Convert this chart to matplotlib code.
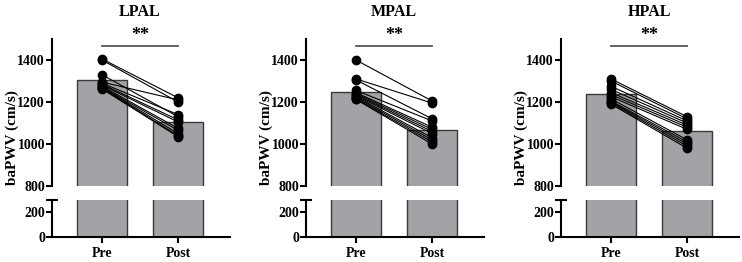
import matplotlib
matplotlib.use("Agg")
import matplotlib.pyplot as plt
import numpy as np

plt.rcParams['font.family'] = ['Liberation Serif', 'DejaVu Serif']
plt.rcParams['font.weight'] = 'bold'

titles = ["LPAL", "MPAL", "HPAL"]
categories = ["Pre", "Post"]
bar_means = [[1305, 1105], [1247, 1067], [1237, 1063]]

pre_vals = [
    [1405, 1400, 1330, 1295, 1290, 1285, 1280, 1275, 1270, 1268, 1265, 1262],
    [1400, 1310, 1305, 1255, 1245, 1240, 1235, 1230, 1225, 1220, 1215, 1212],
    [1310, 1300, 1275, 1260, 1245, 1235, 1225, 1215, 1205, 1200, 1195, 1190],
]
post_vals = [
    [1220, 1200, 1130, 1210, 1140, 1115, 1105, 1075, 1065, 1050, 1040, 1035],
    [1205, 1195, 1120, 1110, 1080, 1070, 1060, 1050, 1030, 1020, 1010, 1000],
    [1130, 1120, 1110, 1100, 1090, 1080, 1070, 1020, 1010, 1000, 990, 980],
]
sig_label = "**"

W, H = 742, 262
fig = plt.figure(figsize=(W / 100, H / 100), dpi=100)

lefts = [52, 306, 561]
width = 178
up_top, up_bot = 39, 186
lo_top, lo_bot = 199.5, 237
xlim = (-50 / 76, 1 + 52 / 76)
bar_w = 0.655
bar_color = "#a3a3a7"
edge_color = "#3a3a3a"
fs_tick = 10

for i in range(3):
    l = lefts[i] / W
    w = width / W
    ax_u = fig.add_axes([l, (H - up_bot) / H, w, (up_bot - up_top) / H])
    ax_l = fig.add_axes([l, (H - lo_bot) / H, w, (lo_bot - lo_top) / H])
    x = np.arange(len(categories))
    for ax in (ax_u, ax_l):
        ax.bar(x, bar_means[i], width=bar_w, color=bar_color,
               edgecolor=edge_color, linewidth=1.0, zorder=1)
        ax.set_xlim(*xlim)
        for s in ("top", "right"):
            ax.spines[s].set_visible(False)
        ax.spines["left"].set_linewidth(1.5)
        ax.tick_params(axis="y", length=4, width=1.5, labelsize=fs_tick, pad=1)
    ax_u.set_ylim(800, 1500)
    ax_u.set_yticks([800, 1000, 1200, 1400])
    ax_u.spines["bottom"].set_visible(False)
    ax_u.set_xticks([])
    ax_l.set_ylim(0, 300)
    ax_l.set_yticks([0, 200])
    ax_l.spines["bottom"].set_linewidth(1.5)
    ax_l.set_xticks(x)
    ax_l.set_xticklabels(categories, fontsize=fs_tick, fontweight="bold")
    ax_l.tick_params(axis="x", length=4, width=1.5, pad=3)
    # break cap on lower axis
    ax_l.plot([0, 0.035], [1, 1], transform=ax_l.transAxes, color="black",
              lw=1.5, clip_on=False, solid_capstyle="butt")
    ax_l.plot([-0.035, 0], [1, 1], transform=ax_l.transAxes, color="black",
              lw=1.5, clip_on=False, solid_capstyle="butt")
    for a, b in zip(pre_vals[i], post_vals[i]):
        ax_u.plot([0, 1], [a, b], color="black", lw=0.8, marker="o",
                  markersize=6, zorder=3, clip_on=False)
    ax_u.plot([0, 1], [1467, 1467], color="#555555", lw=1.3, clip_on=False)
    ax_u.text(0.5, 1478, sig_label, ha="center", va="bottom", fontsize=13,
              fontweight="bold")
    for t in ax_u.get_yticklabels() + ax_l.get_yticklabels():
        t.set_fontweight("bold")
    cx = (lefts[i] + 50 + 38) / W
    fig.text(cx, 1 - 12 / H, titles[i], ha="center", va="center",
             fontsize=11.5, fontweight="bold")
    fig.text((lefts[i] - 40) / W, 1 - 138 / H, "baPWV (cm/s)", rotation=90,
             ha="center", va="center", fontsize=11, fontweight="bold")

fig.savefig("out.png", dpi=100)
